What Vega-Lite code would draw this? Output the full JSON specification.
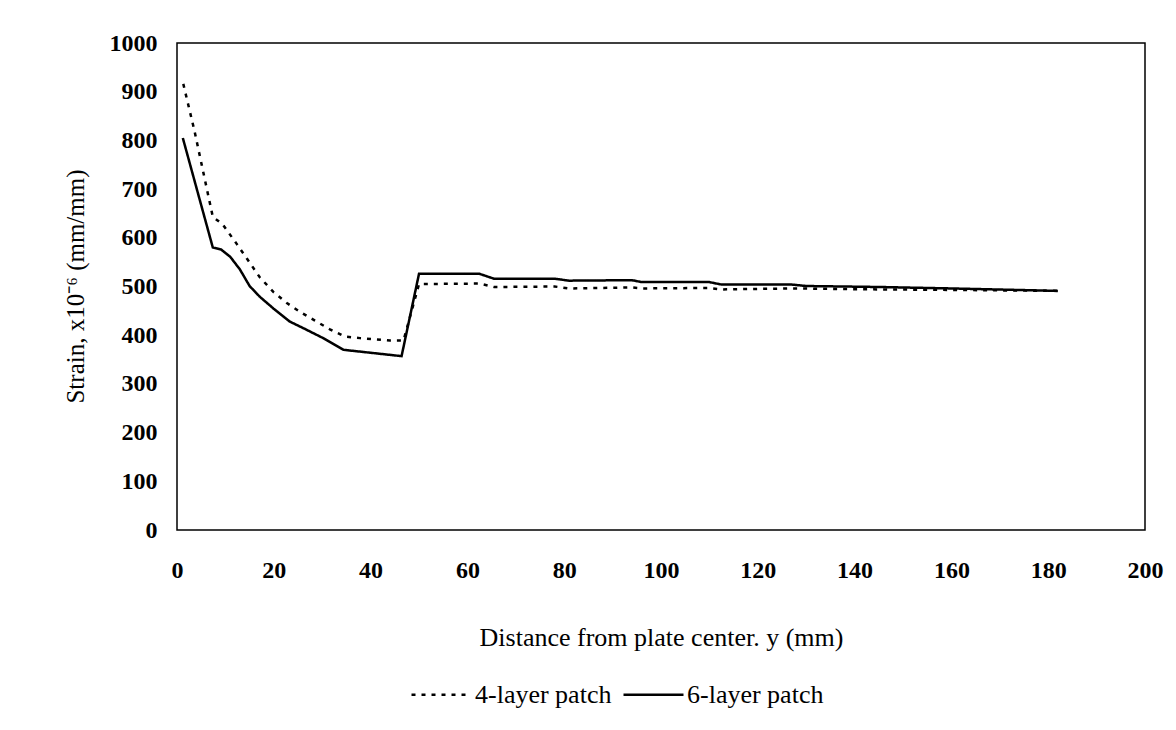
{
  "$schema": "https://vega.github.io/schema/vega-lite/v6.json",
  "width": 968,
  "height": 487,
  "autosize": {"type": "none"},
  "padding": {"left": 177, "top": 43, "right": 31, "bottom": 200},
  "background": "white",
  "config": {
    "font": "Liberation Serif",
    "view": {"stroke": "black", "strokeWidth": 1.5},
    "axis": {"grid": false, "ticks": false, "domain": false, "labelColor": "black", "titleColor": "black", "labelFont": "Liberation Serif", "titleFont": "Liberation Serif", "titleFontWeight": "normal", "labelFontWeight": 600}
  },
  "data": {
    "values": [
      {"series": "4-layer patch", "x": 1.3, "y": 916},
      {"series": "4-layer patch", "x": 3.6, "y": 820},
      {"series": "4-layer patch", "x": 7.4, "y": 643},
      {"series": "4-layer patch", "x": 9.4, "y": 628},
      {"series": "4-layer patch", "x": 12.3, "y": 588},
      {"series": "4-layer patch", "x": 14.4, "y": 558},
      {"series": "4-layer patch", "x": 17.1, "y": 519},
      {"series": "4-layer patch", "x": 19.9, "y": 489},
      {"series": "4-layer patch", "x": 22.7, "y": 466},
      {"series": "4-layer patch", "x": 25.4, "y": 448},
      {"series": "4-layer patch", "x": 28.5, "y": 430},
      {"series": "4-layer patch", "x": 31.6, "y": 412},
      {"series": "4-layer patch", "x": 34.7, "y": 397},
      {"series": "4-layer patch", "x": 37.8, "y": 394},
      {"series": "4-layer patch", "x": 44, "y": 389},
      {"series": "4-layer patch", "x": 46.8, "y": 389},
      {"series": "4-layer patch", "x": 50, "y": 505},
      {"series": "4-layer patch", "x": 62.5, "y": 506},
      {"series": "4-layer patch", "x": 65.5, "y": 499},
      {"series": "4-layer patch", "x": 78, "y": 500},
      {"series": "4-layer patch", "x": 81, "y": 496},
      {"series": "4-layer patch", "x": 94, "y": 498},
      {"series": "4-layer patch", "x": 96, "y": 496},
      {"series": "4-layer patch", "x": 110, "y": 497},
      {"series": "4-layer patch", "x": 112.5, "y": 494},
      {"series": "4-layer patch", "x": 127, "y": 496},
      {"series": "4-layer patch", "x": 145, "y": 494},
      {"series": "4-layer patch", "x": 160, "y": 493},
      {"series": "4-layer patch", "x": 182, "y": 491},
      {"series": "6-layer patch", "x": 1.2, "y": 805},
      {"series": "6-layer patch", "x": 7.4, "y": 580},
      {"series": "6-layer patch", "x": 9.1, "y": 576},
      {"series": "6-layer patch", "x": 11, "y": 561},
      {"series": "6-layer patch", "x": 13, "y": 535},
      {"series": "6-layer patch", "x": 15, "y": 501},
      {"series": "6-layer patch", "x": 17.1, "y": 479},
      {"series": "6-layer patch", "x": 19.9, "y": 455},
      {"series": "6-layer patch", "x": 23.3, "y": 428},
      {"series": "6-layer patch", "x": 26.8, "y": 411},
      {"series": "6-layer patch", "x": 30.2, "y": 394},
      {"series": "6-layer patch", "x": 34.4, "y": 370},
      {"series": "6-layer patch", "x": 46.4, "y": 357},
      {"series": "6-layer patch", "x": 50, "y": 526},
      {"series": "6-layer patch", "x": 62.5, "y": 526},
      {"series": "6-layer patch", "x": 65.5, "y": 516},
      {"series": "6-layer patch", "x": 78, "y": 516},
      {"series": "6-layer patch", "x": 81, "y": 512},
      {"series": "6-layer patch", "x": 94, "y": 513},
      {"series": "6-layer patch", "x": 96, "y": 509},
      {"series": "6-layer patch", "x": 110, "y": 509},
      {"series": "6-layer patch", "x": 112.5, "y": 504},
      {"series": "6-layer patch", "x": 127, "y": 504},
      {"series": "6-layer patch", "x": 130, "y": 501},
      {"series": "6-layer patch", "x": 145, "y": 499},
      {"series": "6-layer patch", "x": 160, "y": 496},
      {"series": "6-layer patch", "x": 182, "y": 491}
    ]
  },
  "mark": {"type": "line", "color": "black", "strokeWidth": 2.5},
  "encoding": {
    "x": {
      "field": "x", "type": "quantitative",
      "scale": {"domain": [0, 200], "nice": false, "zero": false},
      "axis": {"values": [0,20,40,60,80,100,120,140,160,180,200], "format": "d", "labelFontSize": 24, "labelPadding": 40, "labelBaseline": "middle", "labelFlush": false,
               "title": "Distance from plate center. y (mm)", "titleFontSize": 26, "titleY": 107, "titleBaseline": "middle"}
    },
    "y": {
      "field": "y", "type": "quantitative",
      "scale": {"domain": [0, 1000], "nice": false},
      "axis": {"values": [0,100,200,300,400,500,600,700,800,900,1000], "format": "d", "labelFontSize": 24, "labelPadding": 20, "labelFlush": false,
               "title": "Strain, x10⁻⁶ (mm/mm)", "titleFontSize": 25, "titleX": -102, "titleY": 243, "titleAngle": -90, "titleAlign": "center", "titleBaseline": "middle"}
    },
    "strokeDash": {
      "field": "series", "type": "nominal",
      "scale": {"domain": ["4-layer patch", "6-layer patch"], "range": [[4, 6], [1, 0]]},
      "legend": {"orient": "none", "direction": "horizontal", "legendX": 233, "legendY": 620, "title": null,
                 "symbolType": "stroke", "symbolSize": 3600, "symbolStrokeColor": "black", "symbolStrokeWidth": 2.5,
                 "labelFontSize": 26, "labelFont": "Liberation Serif", "labelColor": "black", "labelOffset": 2, "columnPadding": 6, "padding": 0}
    },
    "detail": {"field": "series"}
  }
}
